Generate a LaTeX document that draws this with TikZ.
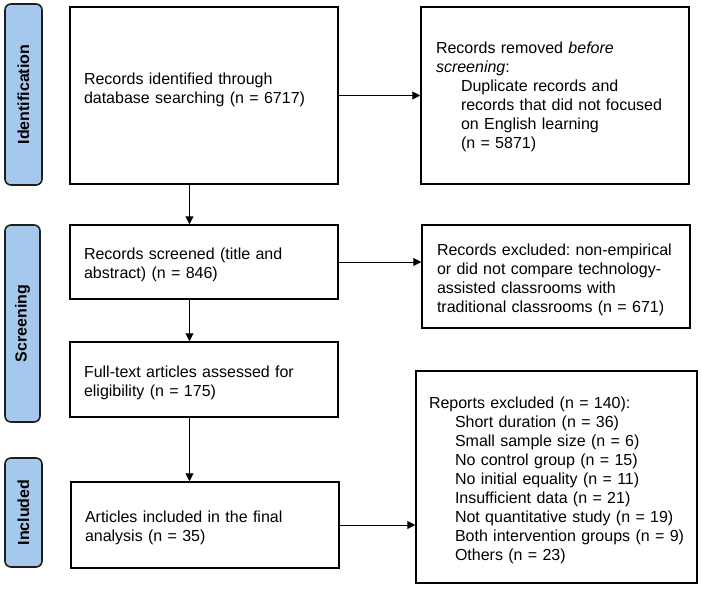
\documentclass[tikz,border=0pt]{standalone}
\usepackage{fontspec}
\setmainfont{Liberation Sans}
\usetikzlibrary{arrows.meta}
\definecolor{lblue}{RGB}{166,200,236}
\definecolor{lborder}{RGB}{30,30,30}
\newcommand{\tstrut}{\rule{0pt}{18pt}}
\tikzset{
  stage/.style={draw=lborder, line width=1.6pt, fill=lblue, rounded corners=6pt, rotate=90,
    font=\fontsize{16}{19}\selectfont\bfseries, inner sep=0pt},
  flowbox/.style={draw=black, line width=1.5pt, fill=white, align=left, inner xsep=14pt, inner ysep=0pt,
    font=\fontsize{16}{19}\selectfont\frenchspacing},
  arr/.style={line width=1pt, -{Triangle[length=8pt,width=8pt]}}
}
\begin{document}
\begin{tikzpicture}[x=1pt,y=-1pt]
\useasboundingbox (0,0) rectangle (702,589);
% stage labels
\node[stage, minimum width=181pt, minimum height=37pt] (sid) at (23.5,94.5) {Identification};
\node[stage, minimum width=197pt, minimum height=35pt] (ssc) at (22.5,323.5) {Screening};
\node[stage, minimum width=109pt, minimum height=37pt] (sin) at (23.5,512.5) {Included};
% boxes
\node[flowbox, text width=240pt, minimum height=177pt] (b1) at (204,95.5)
  {Records identified through\\database searching (n = 6717)\rule[-15pt]{0pt}{15pt}};
\node[flowbox, inner xsep=15pt, text width=238pt, minimum height=177pt] (b2) at (555,95.5)
  {\rule{0pt}{15pt}Records removed \textit{before}\\\textit{screening}:\\
   \hspace*{25pt}Duplicate records and\\
   \hspace*{25pt}records that did not focused\\
   \hspace*{25pt}on English learning\\
   \hspace*{25pt}(n = 5871)};
\node[flowbox, text width=240pt, minimum height=74pt] (b3) at (204,262)
  {\tstrut Records screened (title and\\abstract) (n = 846)};
\node[flowbox, inner xsep=15pt, text width=238pt, minimum height=103pt] (b5) at (556,276.5)
  {\tstrut Records excluded: non-empirical\\or did not compare technology-\\assisted classrooms with\\traditional classrooms (n = 671)};
\node[flowbox, text width=240pt, minimum height=75pt] (b4) at (204,379.5)
  {\tstrut Full-text articles assessed for\\eligibility (n = 175)};
\node[flowbox, text width=240pt, minimum height=86pt] (b6) at (205,525)
  {\tstrut Articles included in the final\\analysis (n = 35)};
\node[flowbox, inner xsep=13pt, text width=255pt, minimum height=212pt] (b7) at (556.5,477)
  {\tstrut Reports excluded (n = 140):\\
   \hspace*{26pt}Short duration (n = 36)\\
   \hspace*{26pt}Small sample size (n = 6)\\
   \hspace*{26pt}No control group (n = 15)\\
   \hspace*{26pt}No initial equality (n = 11)\\
   \hspace*{26pt}Insufficient data (n = 21)\\
   \hspace*{26pt}Not quantitative study (n = 19)\\
   \hspace*{26pt}\mbox{Both intervention groups (n = 9)}\\
   \hspace*{26pt}Others (n = 23)};
% arrows
\coordinate (ax) at (189.5,0);
\draw[arr] (b1.east) -- (b1.east -| b2.west);
\draw[arr] (b1.south -| ax) -- (b3.north -| ax);
\draw[arr] (b3.east) -- (b3.east -| b5.west);
\draw[arr] (b3.south -| ax) -- (b4.north -| ax);
\draw[arr] (b4.south -| ax) -- (b6.north -| ax);
\draw[arr] (b6.east) -- (b6.east -| b7.west);
\end{tikzpicture}
\end{document}
